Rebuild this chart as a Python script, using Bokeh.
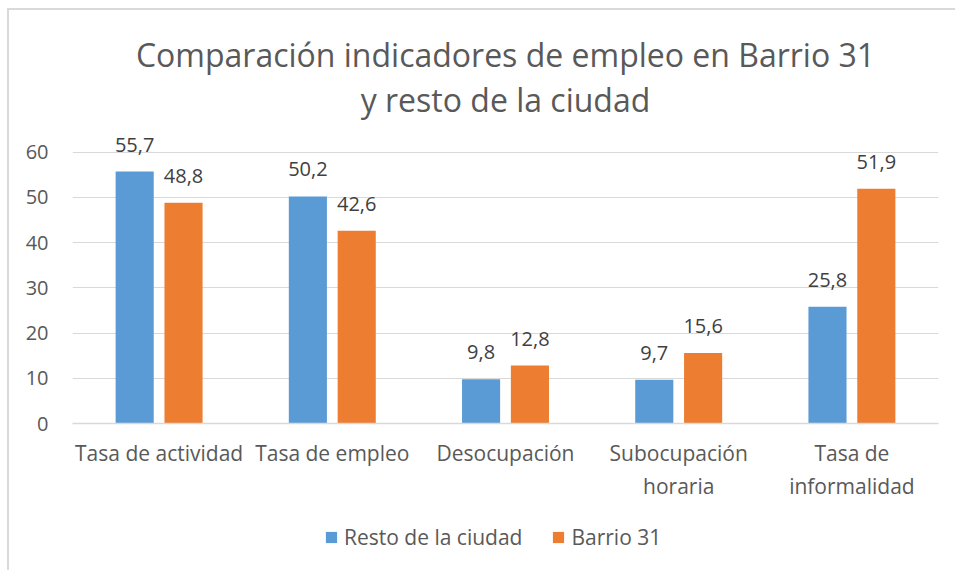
from bokeh.plotting import figure
from bokeh.layouts import column
from bokeh.models import FactorRange, Range1d, Title, Legend, LegendItem, ColumnDataSource, FixedTicker
from bokeh.transform import dodge
from bokeh.core.properties import value
from bokeh.embed import file_html
from bokeh.resources import INLINE

categories = ["Tasa de actividad", "Tasa de empleo", "Desocupación", "Subocupación\nhoraria", "Tasa de\ninformalidad"]
resto_ciudad = [55.7, 50.2, 9.8, 9.7, 25.8]
barrio_31 = [48.8, 42.6, 12.8, 15.6, 51.9]
series_names = ["Resto de la ciudad", "Barrio 31"]
y_ticks = [0, 10, 20, 30, 40, 50, 60]
title_line1 = "Comparación indicadores de empleo en Barrio 31"
title_line2 = "y resto de la ciudad"

FONT = "Open Sans"
BLUE = "#5B9BD5"
ORANGE = "#ED7D31"
TXT = "#595959"

src = ColumnDataSource(dict(
    cat=categories,
    resto=resto_ciudad,
    barrio=barrio_31,
    resto_lbl=[f"{v:.1f}".replace(".", ",") for v in resto_ciudad],
    barrio_lbl=[f"{v:.1f}".replace(".", ",") for v in barrio_31],
))

# y range extends a little above the top tick so value labels are not clipped
p = figure(width=946, height=495, x_range=FactorRange(factors=categories, range_padding=0),
           y_range=Range1d(0, 67), output_backend="svg", toolbar_location=None,
           min_border_left=63, min_border_right=17, min_border_top=110, min_border_bottom=82,
           title=None)
p.outline_line_color = None
p.background_fill_color = "white"
p.border_fill_color = "white"

r1 = p.vbar(x=dodge("cat", -0.141, range=p.x_range), top="resto", width=0.22, source=src,
            fill_color=BLUE, line_color=None)
r2 = p.vbar(x=dodge("cat", 0.141, range=p.x_range), top="barrio", width=0.22, source=src,
            fill_color=ORANGE, line_color=None)

p.text(x=dodge("cat", -0.141, range=p.x_range), y="resto", text="resto_lbl", source=src,
       text_align="center", text_baseline="bottom", y_offset=-20,
       text_font=value(FONT), text_font_size="20px", text_color="#404040")
p.text(x=dodge("cat", 0.141, range=p.x_range), y="barrio", text="barrio_lbl", source=src,
       text_align="center", text_baseline="bottom", y_offset=-20,
       text_font=value(FONT), text_font_size="20px", text_color="#404040")

# axes
p.yaxis.ticker = FixedTicker(ticks=y_ticks)
p.yaxis.axis_line_color = None
p.yaxis.major_tick_line_color = None
p.yaxis.minor_tick_line_color = None
p.yaxis.major_label_text_font = FONT
p.yaxis.major_label_text_font_size = "20px"
p.yaxis.major_label_text_color = TXT
p.yaxis.major_label_standoff = 18

p.xaxis.axis_line_color = "#d9d9d9"
p.xaxis.axis_line_width = 1.5
p.xaxis.major_tick_line_color = None
p.xaxis.minor_tick_line_color = None
p.xaxis.major_label_text_font = FONT
p.xaxis.major_label_text_font_size = "21px"
p.xaxis.major_label_text_color = TXT
p.xaxis.major_label_standoff = 9
p.xgrid.grid_line_color = None
p.ygrid.grid_line_color = "#d9d9d9"
p.ygrid.grid_line_width = 1.2

# titles (first added sits closest to the plot)
t2 = Title(text=title_line2, align="center", text_font=FONT, text_font_size="32px",
           text_color=TXT, text_font_style="normal", standoff=0, text_line_height=0.9)
t1 = Title(text=title_line1, align="center", text_font=FONT, text_font_size="32px",
           text_color=TXT, text_font_style="normal", standoff=0, text_line_height=0.9)
p.add_layout(t2, "above")
p.add_layout(t1, "above")

# legend in a strip below the chart
lg = figure(width=946, height=65, x_range=FactorRange(factors=series_names), y_range=Range1d(0, 1),
            output_backend="svg", toolbar_location=None, x_axis_type=None, y_axis_type=None,
            min_border=0, min_border_left=0, min_border_right=0, min_border_top=0, min_border_bottom=0)
lg.outline_line_color = None
lg.xgrid.grid_line_color = None
lg.ygrid.grid_line_color = None
lr1 = lg.vbar(x=[series_names[0]], top=[0], width=0.1, fill_color=BLUE, line_color=None)
lr2 = lg.vbar(x=[series_names[1]], top=[0], width=0.1, fill_color=ORANGE, line_color=None)
legend = Legend(items=[LegendItem(label=series_names[0], renderers=[lr1]),
                       LegendItem(label=series_names[1], renderers=[lr2])],
                orientation="horizontal", location=(252, 19),
                label_text_font=FONT, label_text_font_size="21px", label_text_color=TXT,
                glyph_width=14, glyph_height=14, label_standoff=6, spacing=29,
                border_line_color=None, background_fill_alpha=0, margin=0, padding=4)
lg.add_layout(legend)

layout = column(p, lg, spacing=0,
                styles={"margin-left": "7px", "margin-top": "8px",
                        "border-left": "2px solid #d9d9d9", "border-top": "2px solid #d9d9d9"})
open("out.html", "w").write(file_html(layout, INLINE))
